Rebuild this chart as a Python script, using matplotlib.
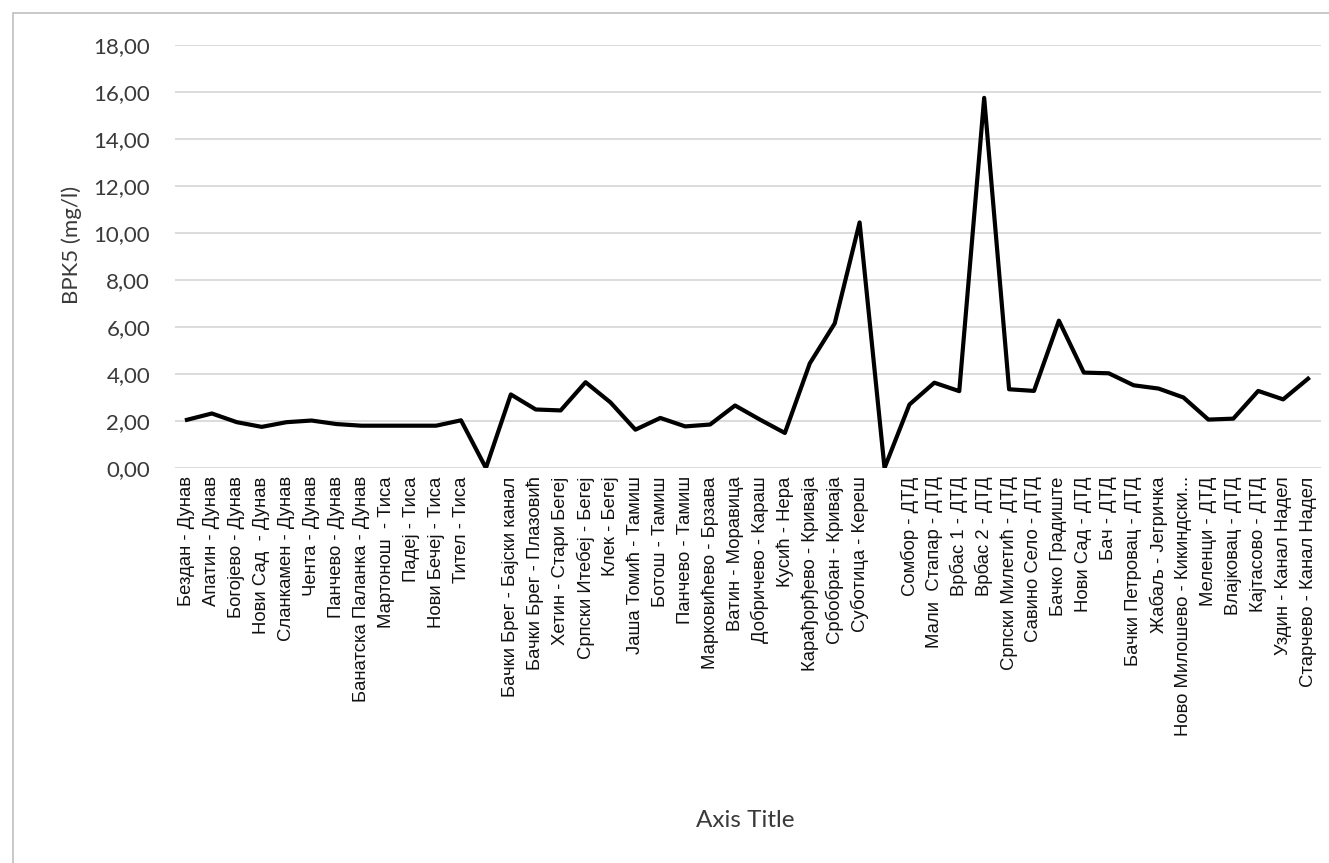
import matplotlib
matplotlib.use("Agg")
import matplotlib.pyplot as plt
from matplotlib.patches import Rectangle
from matplotlib.ticker import FuncFormatter

# Measuring stations (empty entries separate the river groups)
stations = [
    "Бездан - Дунав", "Апатин - Дунав", "Богојево - Дунав", "Нови Сад  - Дунав",
    "Сланкамен - Дунав", "Чента - Дунав", "Панчево - Дунав",
    "Банатска Паланка - Дунав", "Мартонош  - Тиса", "Падеј - Тиса",
    "Нови Бечеј - Тиса", "Тител - Тиса", "",
    "Бачки Брег - Бајски канал", "Бачки Брег - Плазовић", "Хетин - Стари Бегеј",
    "Српски Итебеј - Бегеј", "Клек - Бегеј", "Јаша Томић - Тамиш",
    "Ботош - Тамиш", "Панчево - Тамиш", "Марковићево - Брзава",
    "Ватин - Моравица", "Добричево - Караш", "Кусић - Нера",
    "Карађорђево - Криваја", "Србобран - Криваја", "Суботица - Кереш", "",
    "Сомбор - ДТД", "Мали  Стапар - ДТД", "Врбас 1 - ДТД", "Врбас 2 - ДТД",
    "Српски Милетић - ДТД", "Савино Село - ДТД", "Бачко Градиште",
    "Нови Сад - ДТД", "Бач - ДТД", "Бачки Петровац - ДТД", "Жабаљ - Јегричка",
    "Ново Милошево - Кикиндски...", "Меленци - ДТД", "Влајковац - ДТД",
    "Кајтасово - ДТД", "Уздин - Канал Надел", "Старчево - Канал Надел",
]

# BPK5 values, mg/l
bpk5 = [
    2.05, 2.32, 1.95, 1.75, 1.95, 2.02, 1.87, 1.80, 1.80, 1.80, 1.80, 2.03, 0.00,
    3.13, 2.49, 2.45, 3.65, 2.79, 1.63, 2.13, 1.77, 1.85, 2.66, 2.06, 1.49,
    4.45, 6.15, 10.45, 0.00,
    2.70, 3.63, 3.27, 15.75, 3.35, 3.28, 6.27, 4.06, 4.03, 3.52, 3.38, 3.00,
    2.06, 2.10, 3.28, 2.92, 3.80,
]

y_ticks = [0, 2, 4, 6, 8, 10, 12, 14, 16, 18]

W, H = 1329, 863
fig = plt.figure(figsize=(W / 100, H / 100), dpi=100)
fig.patch.set_facecolor("white")

# chart border
fig.add_artist(Rectangle((13 / W, -0.1), 1.2, 1 - 13 / H + 0.1,
                         transform=fig.transFigure, fill=False,
                         edgecolor="#bfbfbf", linewidth=1.2))

ax = fig.add_axes([174.5 / W, 1 - 468 / H, (1320.5 - 174.5) / W, (468 - 45) / H])
x = list(range(len(stations)))
ax.plot(x, bpk5, color="black", linewidth=3.0, solid_joinstyle="round", zorder=3)

ax.set_xlim(-0.5, len(stations) - 0.5)
ax.set_ylim(0, 18)
ax.set_yticks(y_ticks)
ax.yaxis.set_major_formatter(FuncFormatter(lambda v, p: f"{v:.2f}".replace(".", ",")))
ax.grid(axis="y", color="#d9d9d9", linewidth=1.3)
ax.set_axisbelow(True)
for s in ax.spines.values():
    s.set_visible(False)
ax.tick_params(axis="y", length=0, pad=17.5, labelsize=16, labelcolor="#3a3a3a")
for t in ax.get_yticklabels():
    t.set_fontfamily("Lato")

ax.set_xticks(x)
ax.set_xticklabels(stations, rotation=90, fontsize=13.3, fontfamily="Liberation Sans",
                   color="#111111", ha="center", va="top")
ax.tick_params(axis="x", length=0, pad=6)

fig.text(745 / W, 1 - 820 / H, "Axis Title", ha="center", va="center",
         fontsize=17.5, fontfamily="Lato", color="#3a3a3a")
fig.text(72 / W, 1 - 245 / H, "BPK5 (mg/l)", ha="center", va="center",
         rotation=90, fontsize=16, fontfamily="Lato", color="#3a3a3a")

fig.savefig("out.png", dpi=100, facecolor="white")
